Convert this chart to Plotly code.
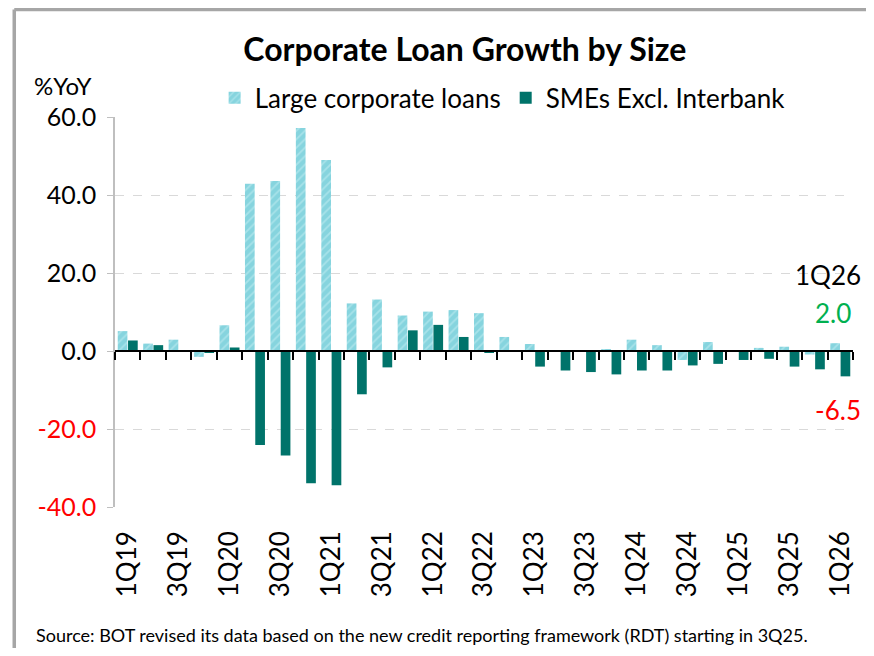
import plotly.graph_objects as go

quarters = ["1Q19","2Q19","3Q19","4Q19","1Q20","2Q20","3Q20","4Q20","1Q21","2Q21","3Q21","4Q21",
            "1Q22","2Q22","3Q22","4Q22","1Q23","2Q23","3Q23","4Q23","1Q24","2Q24","3Q24","4Q24",
            "1Q25","2Q25","3Q25","4Q25","1Q26"]
large_corp = [5.1, 1.9, 2.9, -1.5, 6.6, 42.9, 43.6, 57.2, 49.0, 12.2, 13.2, 9.1,
              10.1, 10.5, 9.7, 3.6, 1.8, 0.1, -0.1, 0.3, 2.9, 1.5, -2.3, 2.3,
              0.1, 0.8, 1.1, -0.9, 2.0]
sme_ex_interbank = [2.7, 1.5, 0.2, -0.3, 0.9, -24.1, -26.8, -33.9, -34.4, -11.1, -4.2, 5.3,
                    6.7, 3.6, -0.4, 0.2, -4.0, -5.0, -5.4, -6.0, -5.0, -5.0, -3.7, -3.3,
                    -2.3, -2.0, -4.0, -4.7, -6.5]
y_ticks = [-40, -20, 0, 20, 40, 60]

FONT = "Lato"
LIGHT = "#86d4de"
DARK = "#00736a"

x_idx = list(range(len(quarters)))

fig = go.Figure()
fig.add_trace(go.Bar(
    x=x_idx, y=large_corp, name="Large corporate loans",
    marker=dict(color=LIGHT, line=dict(width=0),
                pattern=dict(shape="/", fgcolor="#c8eff4", bgcolor=LIGHT, size=6, solidity=0.3)),
))
fig.add_trace(go.Bar(
    x=x_idx, y=sme_ex_interbank, name="SMEs Excl. Interbank",
    marker=dict(color=DARK, line=dict(width=0)),
))

ytext = [("<span style='color:#ff0000'>%.1f</span>" % v) if v < 0 else "%.1f" % v for v in y_ticks]

fig.update_layout(
    width=858, height=640,
    margin=dict(l=107, r=11, t=109, b=141),
    paper_bgcolor="white", plot_bgcolor="white",
    font=dict(family=FONT, size=20, color="black"),
    barmode="group", bargap=0.19, bargroupgap=0.06,
    title=dict(text="<b>Corporate Loan Growth by Size</b>", x=0.474, xref="paper", xanchor="center",
               y=1 - 42 / 640, yanchor="middle", font=dict(size=32, family=FONT, color="black")),
    showlegend=True,
    legend=dict(orientation="h", x=0.135, xanchor="left", y=1.049, yanchor="middle",
                font=dict(size=26, family=FONT), itemwidth=30, traceorder="normal",
                bgcolor="rgba(0,0,0,0)"),
    xaxis=dict(range=[-0.5, len(quarters) - 0.5], tickmode="array",
               tickvals=x_idx[::2], ticktext=quarters[::2], tickangle=-90,
               showline=False, showgrid=False, zeroline=False, ticks="",
               tickfont=dict(size=26, family=FONT), ticklabelstandoff=18),
    xaxis2=dict(overlaying="x", matches="x", anchor="free", position=0.4, side="bottom",
                showline=True, linecolor="black", linewidth=2,
                ticks="outside", ticklen=8, tickwidth=2, tickcolor="black",
                tickmode="array", tickvals=[i - 0.5 for i in range(len(quarters) + 1)],
                showticklabels=False, showgrid=False, zeroline=False),
    yaxis=dict(range=[-40, 60], tickmode="array", tickvals=y_ticks, ticktext=ytext,
               showgrid=True, gridcolor="#d9d9d9", griddash="dash", gridwidth=1,
               showline=True, linecolor="#bfbfbf", linewidth=1.5,
               ticks="outside", ticklen=6, tickcolor="#bfbfbf",
               zeroline=False, tickfont=dict(size=25, family=FONT), ticklabelstandoff=6),
)

fig.add_trace(go.Scatter(x=[0], y=[0], xaxis="x2", mode="markers",
                         marker=dict(opacity=0), showlegend=False, hoverinfo="skip"))

fig.add_annotation(text="%YoY", xref="paper", yref="paper", x=-0.113, y=1.082,
                   xanchor="left", yanchor="middle", showarrow=False, font=dict(size=24, family=FONT))
fig.add_annotation(text=quarters[-1], xref="paper", yref="y", x=1.0135, y=19.5,
                   xanchor="right", yanchor="middle", showarrow=False, font=dict(size=26, family=FONT))
fig.add_annotation(text="%.1f" % large_corp[-1], xref="paper", yref="y", x=1.0, y=9.7,
                   xanchor="right", yanchor="middle", showarrow=False,
                   font=dict(size=26, family=FONT, color="#00b050"))
fig.add_annotation(text="%.1f" % sme_ex_interbank[-1], xref="paper", yref="y", x=1.0135, y=-15.2,
                   xanchor="right", yanchor="middle", showarrow=False,
                   font=dict(size=26, family=FONT, color="#ff0000"))
fig.add_annotation(text="Source: BOT revised its data based on the new credit reporting framework (RDT) starting in 3Q25.",
                   xref="paper", yref="paper", x=-0.1095, y=-0.328, xanchor="left", yanchor="middle",
                   showarrow=False, font=dict(size=18, family=FONT))

# outer frame (top and left edges visible)
fig.add_shape(type="line", xref="paper", yref="paper", x0=-0.1365, y0=1.2757, x1=1.2, y1=1.2757,
              line=dict(color="#a6a6a6", width=3.5), layer="below")
fig.add_shape(type="line", xref="paper", yref="paper", x0=-0.1365, y0=1.2757, x1=-0.1365, y1=-0.6,
              line=dict(color="#a6a6a6", width=3.5), layer="below")

fig.write_html("out.html")
